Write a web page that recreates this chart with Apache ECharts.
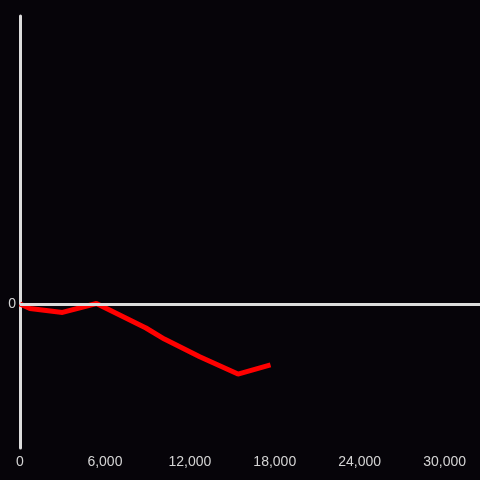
<!DOCTYPE html>
<html>
<head>
<meta charset="utf-8">
<script src="https://cdn.jsdelivr.net/npm/echarts@6/dist/echarts.min.js"></script>
<style>html,body{margin:0;padding:0;background:#060409;}#c{width:480px;height:480px;}</style>
</head>
<body>
<div id="c"></div>
<script>
var xValues = [0, 700, 3000, 5400, 8900, 10200, 12700, 15400, 17700];
var yValues = [0, -4.7, -8.8, 0.5, -25, -36.5, -55, -73, -63.5];
var xTicks = [0, 6000, 12000, 18000, 24000, 30000];

var chart = echarts.init(document.getElementById('c'));
chart.setOption({
  backgroundColor: '#060409',
  animation: false,
  grid: {left: 20, right: 0, top: 16, bottom: 32},
  xAxis: {
    type: 'value', min: 0, max: 32500, interval: 6000,
    axisLine: {show: false}, axisTick: {show: false}, splitLine: {show: false},
    axisLabel: {
      color: '#d4d4d4', fontSize: 14, fontFamily: 'Liberation Sans', margin: 7,
      showMaxLabel: false,
      formatter: function (v) { return xTicks.indexOf(v) >= 0 ? v.toLocaleString('en-US') : ''; }
    }
  },
  yAxis: {
    type: 'value', min: -150, max: 300, interval: 150,
    axisLine: {show: true, onZero: false, lineStyle: {color: '#dcdcdc', width: 3}},
    axisTick: {show: false}, splitLine: {show: false},
    axisLabel: {
      color: '#d4d4d4', fontSize: 14, fontFamily: 'Liberation Sans', margin: 4,
      formatter: function (v) { return v === 0 ? '0' : ''; }
    }
  },
  series: [{
    type: 'line',
    data: xValues.map(function (x, i) { return [x, yValues[i]]; }),
    showSymbol: false,
    lineStyle: {color: '#ff0000', width: 5},
    markLine: {
      silent: true, symbol: ['none', 'none'], label: {show: false},
      lineStyle: {color: '#dcdcdc', width: 3, type: 'solid'},
      data: [{yAxis: 0}]
    },
    z: 3
  }]
});
</script>
</body>
</html>
